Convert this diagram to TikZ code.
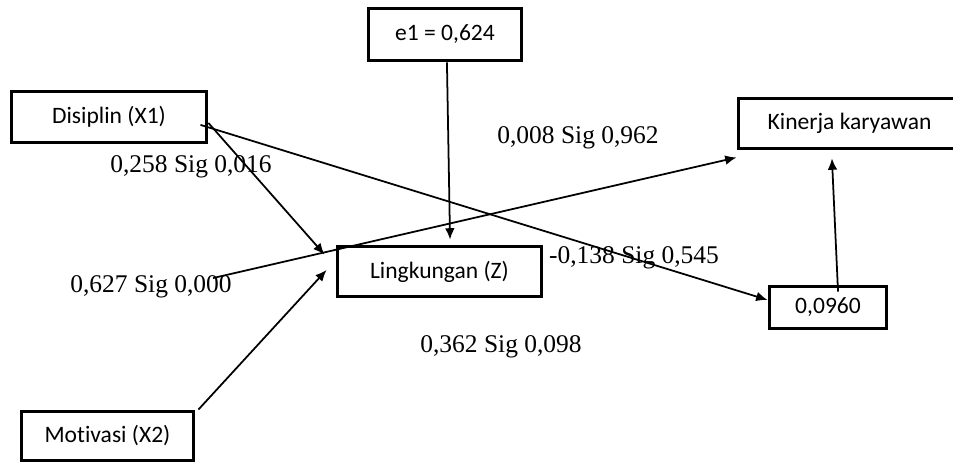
\documentclass[tikz,border=0pt]{standalone}
\usepackage{fontspec}
\setmainfont{Liberation Serif}
\newfontfamily\boxfont[Ligatures=NoCommon]{Carlito}
\usetikzlibrary{arrows.meta}
\tikzset{
	varbox/.style={draw, line width=2.2pt, inner sep=0pt, font=\boxfont\fontsize{13.4}{16}\selectfont},
	coef/.style={inner sep=0pt, font=\fontsize{14.5}{17}\selectfont},
	path/.style={line width=1pt, -{Latex[length=6.5pt,width=5.5pt]}}
}

\begin{document}
\begin{tikzpicture}
		%%%%% START %%%%%
		
		\useasboundingbox (0, 0) rectangle (19.06, 9.26);
		
		\node[varbox, minimum width=3.06cm, minimum height=1.04cm] (e1) at (8.90, 8.57) {e1 = 0,624};
		\node[varbox, minimum width=3.90cm, minimum height=1.02cm] (dis) at (2.18, 6.92) {Disiplin (X1)};
		\node[varbox, minimum width=4.44cm, minimum height=1.00cm] (kin) at (16.99, 6.79) {Kinerja karyawan};
		\node[varbox, minimum width=4.08cm, minimum height=1.00cm] (lingk) at (8.79, 3.83) {Lingkungan (Z)};
		\node[varbox, minimum width=2.34cm, minimum height=0.84cm] (val) at (16.56, 3.11) {0,0960};
		\node[varbox, minimum width=3.44cm, minimum height=0.98cm] (mot) at (2.15, 0.54) {Motivasi (X2)};
		
		\node[coef] (c1) at (3.82, 5.92) {0,258 Sig 0,016};
		\node[coef] (c2) at (11.56, 6.50) {0,008 Sig 0,962};
		\node[coef] (c3) at (3.02, 3.52) {0,627 Sig 0,000};
		\node[coef] (c4) at (12.68, 4.11) {-0,138 Sig 0,545};
		\node[coef] (c5) at (10.02, 2.32) {0,362 Sig 0,098};
		
		\draw[path] ([xshift=-4.5pt, yshift=-4.5pt]dis.east) -- ([yshift=4.3pt]val.west);
		\draw[path] ([yshift=-3.4pt]dis.east) -- ([xshift=-6.3pt, yshift=-5.7pt]lingk.north west);
		\draw[path] ([xshift=-10.8pt, yshift=5.1pt]c3.east) -- ([yshift=-4pt]kin.south west);
		\draw[path] ([xshift=1.7pt]mot.north east) -- ([xshift=-5.1pt, yshift=0.9pt]lingk.west);
		\draw[path] ([xshift=1.1pt]e1.south) -- ([xshift=6pt, yshift=2.8pt]lingk.north);
		\draw[path] ([xshift=5.7pt, yshift=-4pt]val.north) -- ([xshift=-10pt, yshift=-4.5pt]kin.south);
		
		%%%%% END %%%%%
	\end{tikzpicture}
\end{document}
